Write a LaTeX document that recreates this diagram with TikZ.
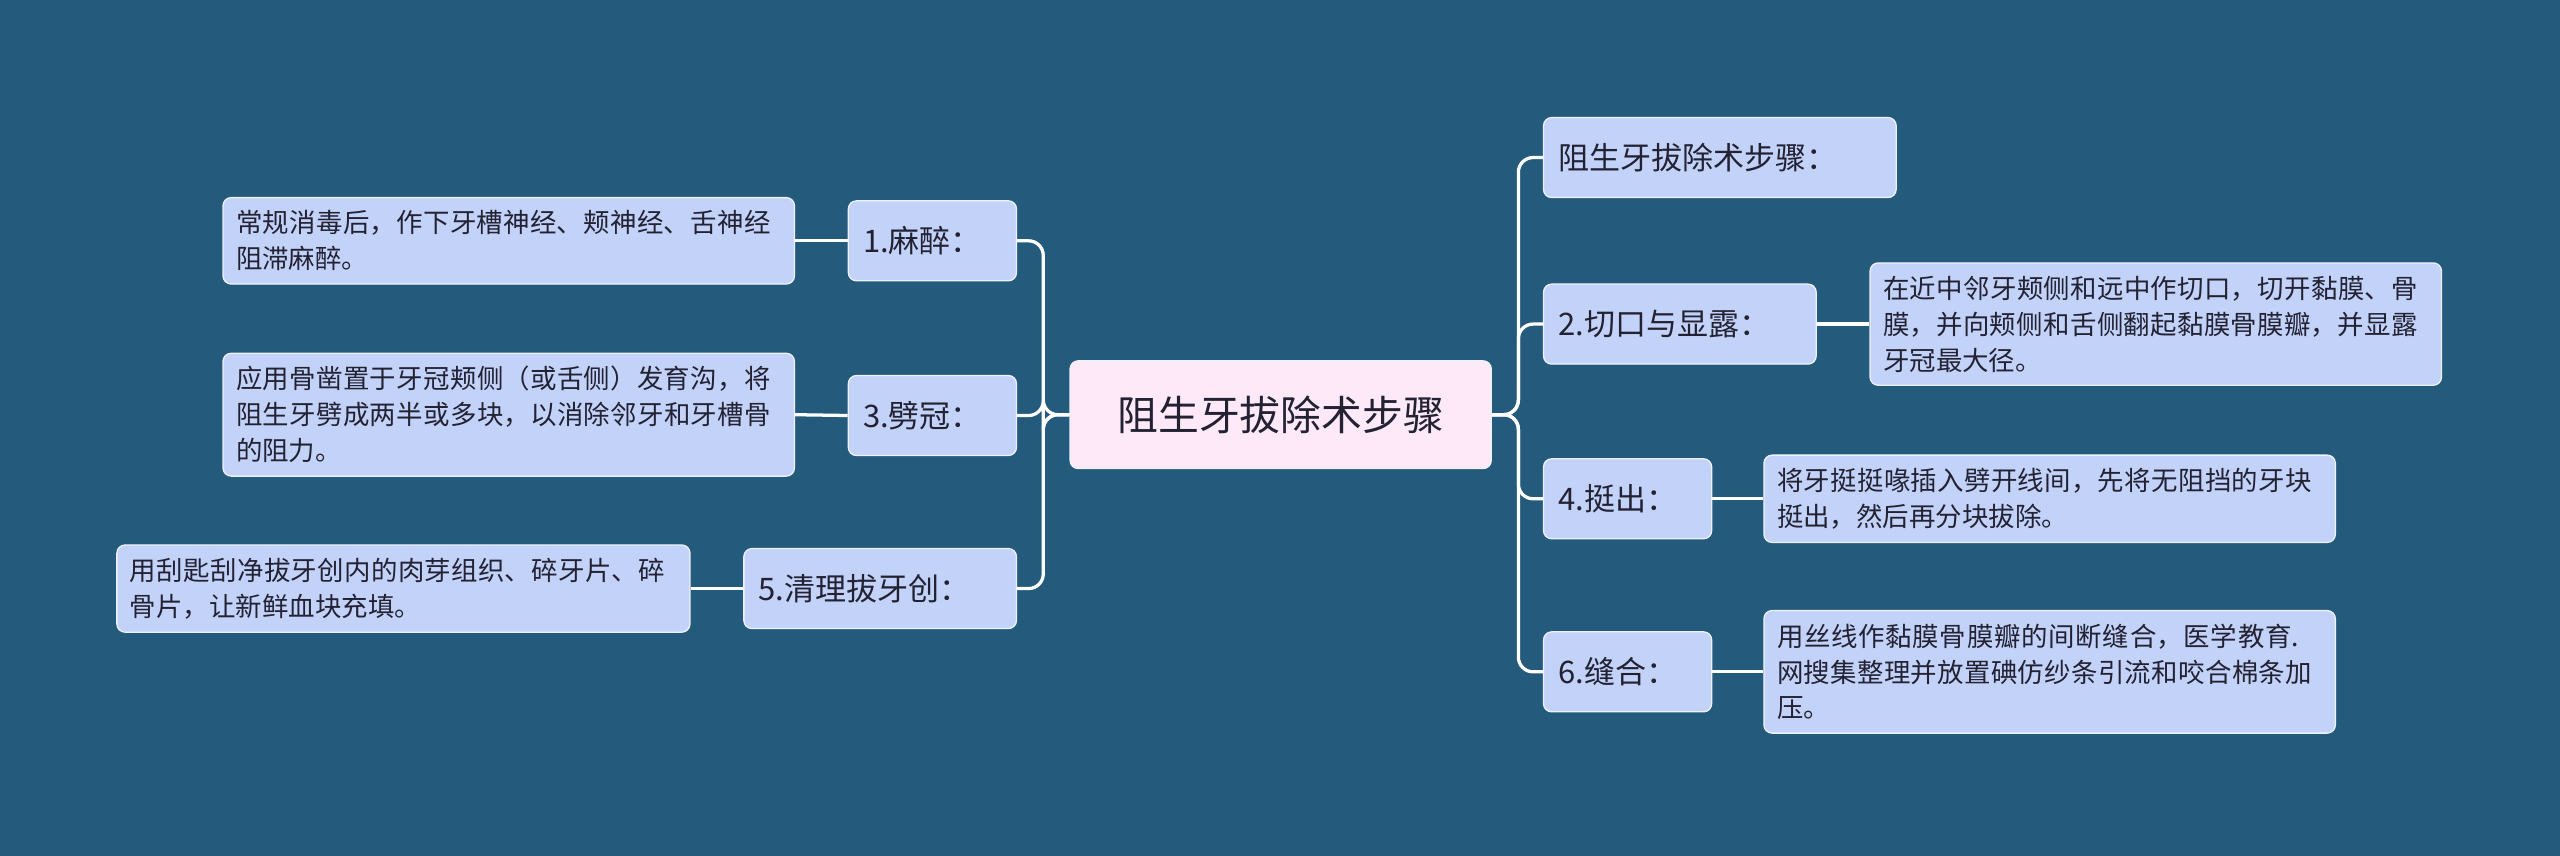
\documentclass[tikz,border=0pt]{standalone}
\usepackage{fontspec}
\setmainfont{Noto Sans CJK SC}
\XeTeXlinebreaklocale "zh"
\XeTeXlinebreakskip=0pt plus 1pt
\definecolor{bg}{HTML}{245A7B}
\definecolor{nb}{HTML}{C3D2F8}
\definecolor{nc}{HTML}{FDE9F8}
\definecolor{tx}{HTML}{222233}
\begin{document}
\begin{tikzpicture}[x=1pt,y=-1pt,
  box/.style={rectangle,rounded corners=5pt,fill=nb,draw=white!70!nb,line width=0.8pt,text=tx,inner sep=0pt},
  br/.style={box,anchor=west,minimum height=49pt,font=\fontsize{19}{22}\selectfont,align=left},
  leaf/.style={box,anchor=west,font=\fontsize{16.2}{22}\selectfont,align=left,inner xsep=8pt,inner ysep=8pt},
  ln/.style={white,line width=2pt,rounded corners=9pt}]
\fill[bg] (0,0) rectangle (1568,524);
\useasboundingbox (0,0) rectangle (1568,524);
\node[box,fill=nc,anchor=west,minimum width=258pt,minimum height=66pt,font=\fontsize{25}{28}\selectfont] (c) at (655,254) {阻生牙拔除术步骤};
% right
\node[br,text width=198pt,inner xsep=9pt] (r0) at (945,96.5) {阻生牙拔除术步骤：};
\node[br,text width=149pt,inner xsep=9pt] (r1) at (945,198.5) {2.切口与显露：};
\node[br,text width=85pt,inner xsep=9pt] (r2) at (945,305.5) {4.挺出：};
\node[br,text width=85pt,inner xsep=9pt] (r3) at (945,411.5) {6.缝合：};
\node[leaf,text width=334pt] (l1) at (1145,198.5) {在近中邻牙颊侧和远中作切口，切开黏膜、骨膜，并向颊侧和舌侧翻起黏膜骨膜瓣，并显露牙冠最大径。};
\node[leaf,text width=334pt] (l2) at (1080,305.5) {将牙挺挺喙插入劈开线间，先将无阻挡的牙块挺出，然后再分块拔除。};
\node[leaf,text width=334pt] (l3) at (1080,411.5) {用丝线作黏膜骨膜瓣的间断缝合，医学教育.网搜集整理并放置碘仿纱条引流和咬合棉条加压。};
% left
\node[br,text width=85pt,inner xsep=9pt,anchor=east] (b1) at (623,147.5) {1.麻醉：};
\node[br,text width=85pt,inner xsep=9pt,anchor=east] (b2) at (623,254.5) {3.劈冠：};
\node[br,text width=149pt,inner xsep=9pt,anchor=east] (b3) at (623,360.5) {5.清理拔牙创：};
\node[leaf,text width=334pt,anchor=east] (k1) at (487,147.5) {常规消毒后，作下牙槽神经、颊神经、舌神经阻滞麻醉。};
\node[leaf,text width=334pt,anchor=east] (k2) at (487,254) {应用骨凿置于牙冠颊侧（或舌侧）发育沟，将阻生牙劈成两半或多块，以消除邻牙和牙槽骨的阻力。};
\node[leaf,text width=335pt,anchor=east] (k3) at (423,360.5) {用刮匙刮净拔牙创内的肉芽组织、碎牙片、碎骨片，让新鲜血块充填。};
\foreach \n in {r0,r1,r2,r3}{\draw[ln] (c.east) -- (930,254) |- (\n.west);}
\foreach \n in {b1,b2,b3}{\draw[ln] (c.west) -- (639,254) |- (\n.east);}
\draw[ln] (r1.east) -- (l1.west);
\draw[ln] (r2.east) -- (l2.west);
\draw[ln] (r3.east) -- (l3.west);
\draw[ln] (b1.west) -- (k1.east);
\draw[ln] (b2.west) -- (k2.east);
\draw[ln] (b3.west) -- (k3.east);
\end{tikzpicture}
\end{document}
